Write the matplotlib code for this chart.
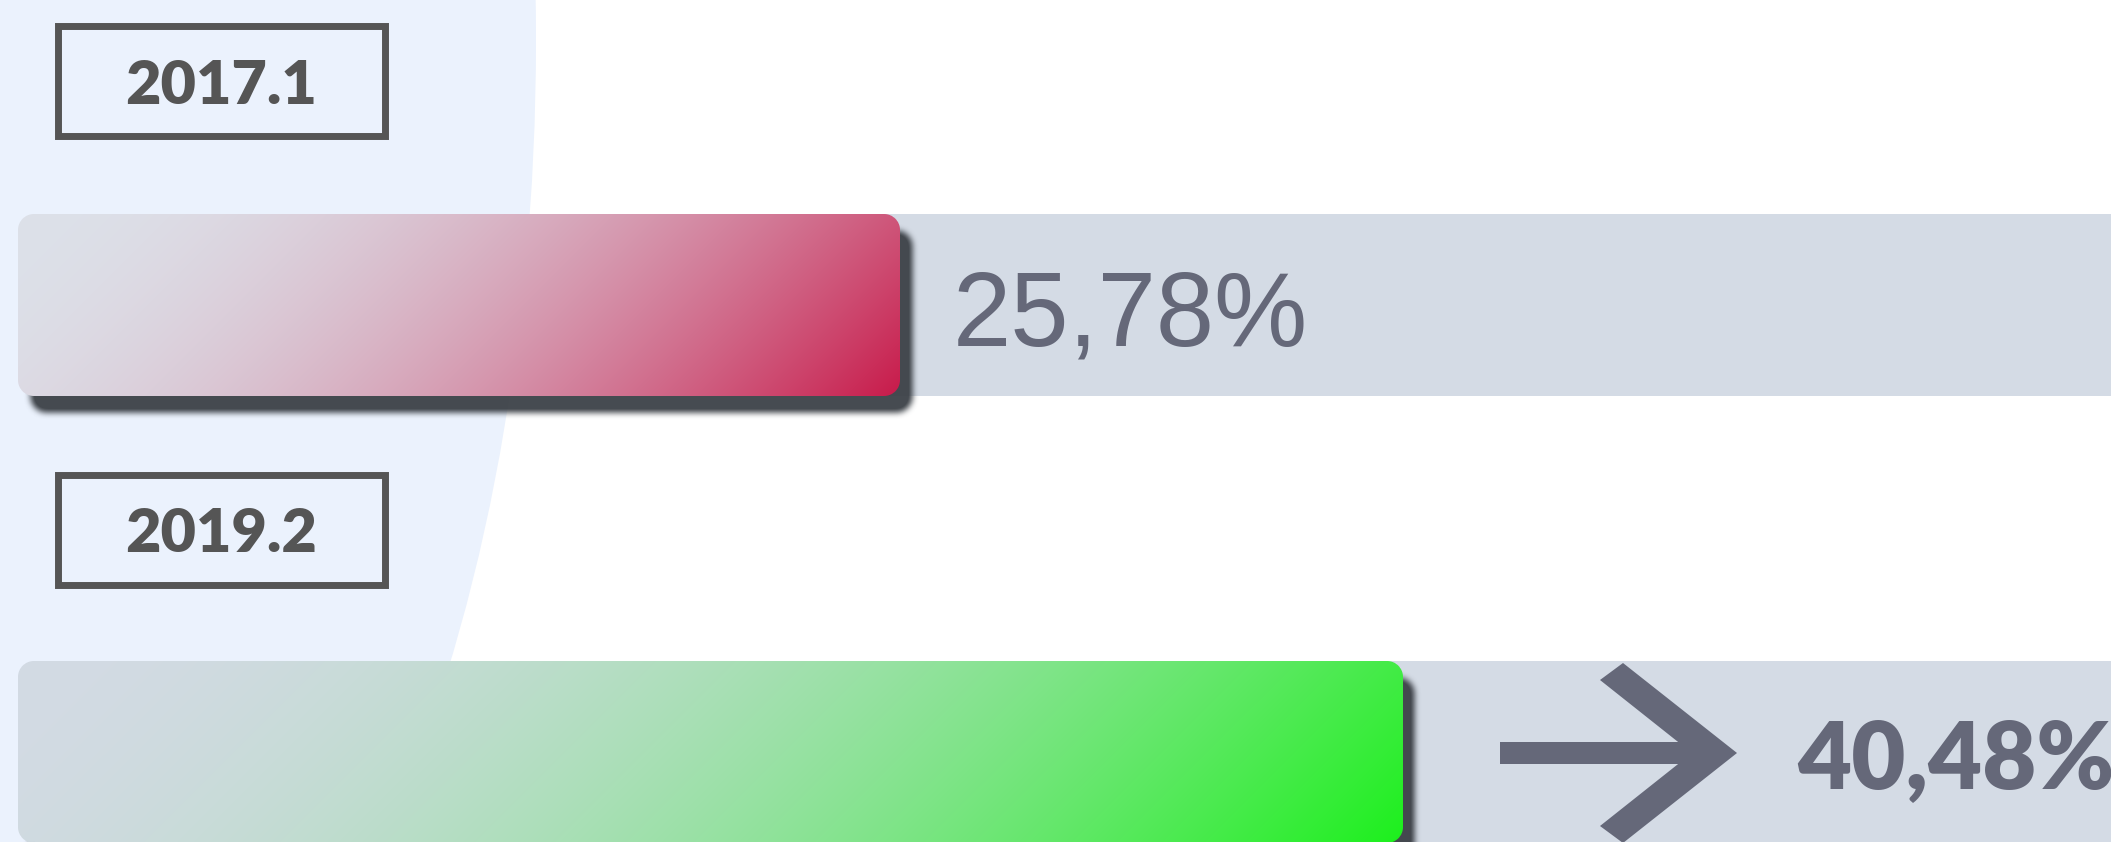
import numpy as np
import matplotlib.pyplot as plt
from matplotlib.patches import Ellipse, Rectangle, Polygon

# data
periods = ['2017.1', '2019.2']
values = [25.78, 40.48]
value_labels = ['25,78%', '40,48%']
bar_colors = [('#DDE1E9', '#C81A4A'), ('#D3DAE4', '#1CF01C')]

W, H = 2111, 842
k = 34.2          # pixels per percent
x0 = 18           # pixel where 0% sits
row_gap = 447     # pixels between bar centres
y_first = 305     # pixel centre of first bar
bar_px = 182
radius = 16


def hex_rgb(c):
    c = c.lstrip('#')
    return np.array([int(c[i:i + 2], 16) / 255 for i in (0, 2, 4)])


def rrect_mask(w, h, r, pad=0, dx=0, dy=0):
    yy, xx = np.mgrid[0:h + 2 * pad, 0:w + 2 * pad] + 0.5
    xx = xx - pad - dx
    yy = yy - pad - dy
    cx = np.clip(xx, r, w - r)
    cy = np.clip(yy, r, h - r)
    d = np.hypot(xx - cx, yy - cy) - r
    return np.clip(0.5 - d, 0, 1)


def blur(a, n):
    ker = np.ones(n) / n
    for _ in range(3):
        a = np.apply_along_axis(lambda m: np.convolve(m, ker, mode='same'), 0, a)
        a = np.apply_along_axis(lambda m: np.convolve(m, ker, mode='same'), 1, a)
    return a


fig = plt.figure(figsize=(W / 100, H / 100), dpi=100)
fig.patch.set_facecolor('white')

# background layer in pixel coords
bg = fig.add_axes([0, 0, 1, 1])
bg.set_xlim(0, W)
bg.set_ylim(H, 0)
bg.axis('off')
bg.add_patch(Ellipse((0, 40), 1072, 2294, color='#EBF2FD', lw=0))

for i, p in enumerate(periods):
    top = [25.5, 474.5][i]
    bg.add_patch(Rectangle((57.5, top), 327, 110, fill=False, ec='#555555', lw=5.0))
    bg.text(221, top + 78, p, ha='center', va='baseline', fontsize=44,
            fontfamily='Lato', fontweight='heavy', color='#555555')

# data layer
ax = fig.add_axes([0, 0, 1, 1])
ax.axis('off')
ax.patch.set_alpha(0)
ypos = np.arange(len(values))
bh = bar_px / row_gap
xmax = (W - x0) / k

# track
ax.barh(ypos, xmax, left=radius / k, height=bh, color='#D4DBE5', lw=0, zorder=1)
bars = ax.barh(ypos, values, height=bh, color='none', lw=0, zorder=2)

for b, (c0, c1) in zip(bars, bar_colors):
    v = b.get_width()
    yc = b.get_y() + bh / 2
    w = int(round(v * k))
    # shadow
    m = 40
    sh = rrect_mask(w, bar_px, radius, pad=m, dx=11, dy=15)
    sh = np.clip(blur(sh, 6) * 1.05, 0, 0.95)
    shimg = np.zeros(sh.shape + (4,))
    shimg[..., :3] = hex_rgb('#3C4147')
    shimg[..., 3] = sh
    ax.imshow(shimg, extent=(-m / k, (w + m) / k, yc + (bar_px / 2 + m) / row_gap,
                             yc - (bar_px / 2 + m) / row_gap),
              aspect='auto', interpolation='bilinear', zorder=3)
    # gradient fill
    yy, xx = np.mgrid[0:bar_px, 0:w] + 0.5
    t = ((xx + yy) / (w + bar_px)) ** 1.9
    rgb = hex_rgb(c0) + (hex_rgb(c1) - hex_rgb(c0)) * t[..., None]
    img = np.dstack([rgb, rrect_mask(w, bar_px, radius)])
    ax.imshow(img, extent=(0, v, yc + bh / 2, yc - bh / 2),
              aspect='auto', interpolation='bilinear', zorder=4)

ax.set_xlim(-x0 / k, xmax)
ax.set_ylim((H - y_first) / row_gap, -y_first / row_gap)

# foreground labels in pixel coords
fg = fig.add_axes([0, 0, 1, 1])
fg.set_xlim(0, W)
fg.set_ylim(H, 0)
fg.axis('off')
fg.patch.set_alpha(0)

fg.text(953, 345.5, value_labels[0], ha='left', va='baseline', fontsize=75.4,
        fontfamily='Liberation Sans', color='#656879')

ax_x, ax_y = 1500, 753
fg.add_patch(Rectangle((ax_x, ax_y - 11), 197, 22, color='#656879', lw=0))
fg.add_patch(Polygon([(ax_x + 123, ax_y - 90), (ax_x + 237, ax_y), (ax_x + 123, ax_y + 90),
                      (ax_x + 100, ax_y + 73), (ax_x + 192, ax_y), (ax_x + 100, ax_y - 73)],
                     closed=True, color='#656879', lw=0))
fg.text(1797, 788.5, value_labels[1], ha='left', va='baseline', fontsize=67.3,
        fontfamily='Lato', fontweight='heavy', color='#656879')

fig.savefig('out.png', dpi=100)
